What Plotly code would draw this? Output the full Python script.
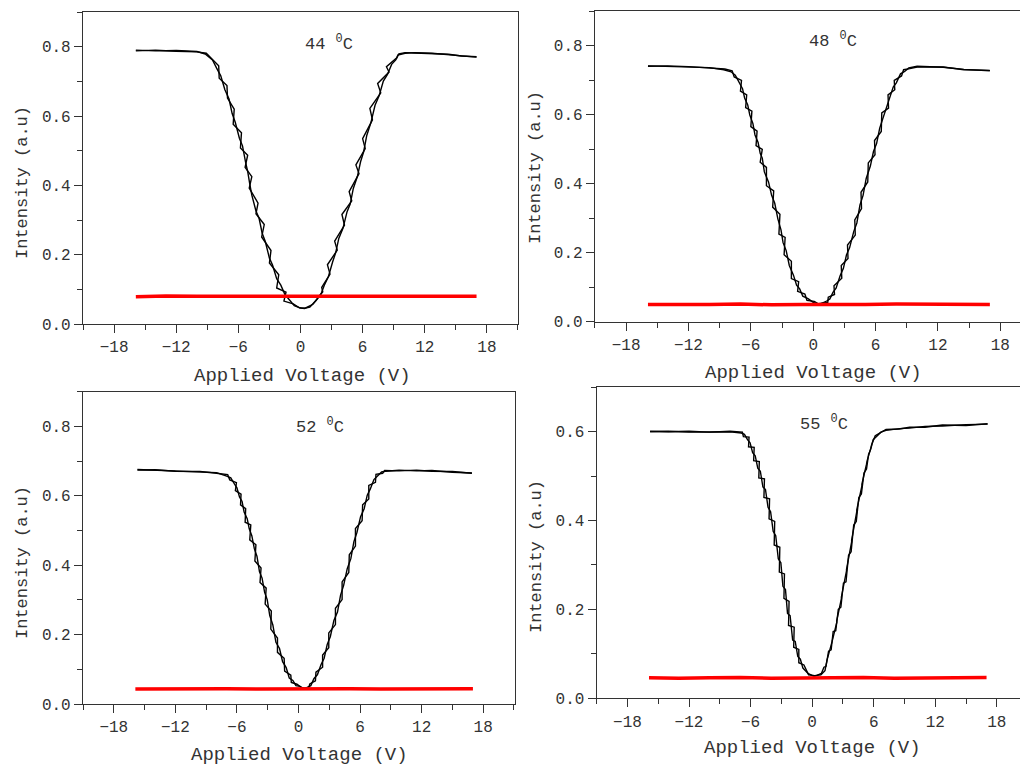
import plotly.graph_objects as go

# ---- data (two voltage sweeps per temperature) ----
V44 = [-15.9, -14, -12, -10, -9.2, -8.5, -8.1, -7.7, -7.3, -6.9, -6.6, -6.3, -5.9, -5.6, -5.3, -5.1,
       -4.9, -4.7, -4.3, -4.0, -3.7, -3.4, -3.0, -2.7, -2.3, -1.9, -1.5, -1.1, -0.6, 0, 0.4, 0.8,
       1.2, 1.6, 2.0, 2.3, 2.7, 3.1, 3.4, 3.7, 4.1, 4.5, 4.8, 5.1, 5.5, 5.8, 6.1, 6.4, 6.8, 7.2,
       7.6, 8.0, 8.4, 8.8, 9.2, 9.5, 10.1, 11, 12.7, 14.3, 15.5, 17.0]
I44_a = [0.790, 0.788, 0.789, 0.786, 0.779, 0.762, 0.738, 0.716, 0.676, 0.649, 0.607, 0.582, 0.536,
         0.514, 0.466, 0.440, 0.404, 0.372, 0.326, 0.305, 0.262, 0.238, 0.190, 0.170, 0.131, 0.112,
         0.085, 0.072, 0.053, 0.046, 0.045, 0.051, 0.057, 0.072, 0.088, 0.112, 0.137, 0.179, 0.206,
         0.247, 0.276, 0.324, 0.346, 0.391, 0.426, 0.468, 0.497, 0.544, 0.581, 0.631, 0.659, 0.701,
         0.720, 0.749, 0.762, 0.779, 0.783, 0.782, 0.780, 0.778, 0.773, 0.771]
V44_b = [-15.9, -14, -12, -10, -9.1, -8.6, -7.9, -7.85, -7.1, -7.05, -6.4, -6.5, -5.7, -5.8, -5.1, -5.35,
         -4.7, -4.95, -4.1, -4.3, -3.5, -3.75, -2.85, -3.0, -2.1, -2.3, -1.4, -1.6, -0.7, -0.1, 0.5, 0.9,
         1.3, 1.5, 2.15, 2.05, 2.85, 2.6, 3.55, 3.3, 4.25, 4.0, 4.95, 4.7, 5.65, 5.35, 6.25, 6.0, 6.95,
         6.7, 7.75, 7.45, 8.55, 8.3, 9.3, 9.4, 10.1, 11, 12.7, 14.3, 15.5, 17.0]
I44_b = [0.788, 0.790, 0.787, 0.785, 0.781, 0.766, 0.745, 0.709, 0.688, 0.652, 0.620, 0.576, 0.552,
         0.508, 0.487, 0.452, 0.425, 0.392, 0.349, 0.318, 0.287, 0.251, 0.212, 0.176, 0.142, 0.104,
         0.092, 0.066, 0.058, 0.047, 0.046, 0.049, 0.060, 0.068, 0.093, 0.106, 0.144, 0.171, 0.213,
         0.239, 0.285, 0.316, 0.355, 0.382, 0.434, 0.459, 0.506, 0.535, 0.589, 0.622, 0.667, 0.694,
         0.727, 0.742, 0.768, 0.776, 0.781, 0.783, 0.781, 0.777, 0.774, 0.770]

V48 = [-15.9, -14, -12, -10, -8.6, -7.9, -7.5, -7.1, -6.8, -6.6, -6.3, -6.1, -5.8, -5.6, -5.3, -5.1,
       -4.9, -4.7, -4.3, -4.0, -3.7, -3.4, -3.1, -2.9, -2.6, -2.3, -1.9, -1.6, -1.3, -1.0, -0.5, 0,
       0.6, 1.3, 1.6, 1.9, 2.2, 2.6, 2.9, 3.2, 3.5, 3.9, 4.2, 4.5, 4.8, 5.1, 5.5, 5.8, 6.1, 6.4,
       6.8, 7.1, 7.4, 7.7, 8.0, 8.4, 8.8, 9.2, 10.0, 12.5, 14.5, 17.0]
I48_a = [0.741, 0.740, 0.738, 0.736, 0.730, 0.724, 0.714, 0.693, 0.675, 0.648, 0.628, 0.599, 0.574,
         0.541, 0.519, 0.488, 0.474, 0.434, 0.405, 0.366, 0.343, 0.298, 0.266, 0.229, 0.206, 0.163,
         0.135, 0.106, 0.095, 0.074, 0.067, 0.056, 0.050, 0.060, 0.066, 0.085, 0.097, 0.134, 0.154,
         0.193, 0.214, 0.261, 0.286, 0.338, 0.366, 0.415, 0.451, 0.493, 0.516, 0.561, 0.596, 0.627,
         0.648, 0.680, 0.692, 0.718, 0.725, 0.735, 0.740, 0.737, 0.731, 0.727]
V48_b = [-15.9, -14, -12, -10, -8.5, -7.8, -7.6, -6.9, -7.0, -6.4, -6.5, -5.9, -6.0, -5.4, -5.5, -4.9,
         -5.1, -4.5, -4.5, -3.8, -3.9, -3.2, -3.3, -2.7, -2.8, -2.1, -2.1, -1.4, -1.5, -0.8, -0.6, 0.1,
         0.5, 1.4, 1.45, 2.05, 2.0, 2.75, 2.7, 3.35, 3.3, 4.05, 4.0, 4.65, 4.6, 5.25, 5.3, 5.95, 5.9,
         6.55, 6.6, 7.25, 7.2, 7.85, 7.8, 8.5, 8.7, 9.3, 10.0, 12.5, 14.5, 17.0]
I48_b = [0.740, 0.741, 0.739, 0.735, 0.732, 0.727, 0.709, 0.699, 0.668, 0.657, 0.620, 0.610, 0.565,
         0.552, 0.510, 0.499, 0.462, 0.447, 0.394, 0.379, 0.332, 0.311, 0.254, 0.244, 0.194, 0.175,
         0.125, 0.116, 0.088, 0.080, 0.062, 0.059, 0.052, 0.056, 0.071, 0.079, 0.104, 0.126, 0.163,
         0.183, 0.222, 0.251, 0.295, 0.328, 0.375, 0.405, 0.460, 0.484, 0.525, 0.551, 0.605, 0.619,
         0.657, 0.672, 0.699, 0.712, 0.730, 0.733, 0.738, 0.738, 0.730, 0.728]

V52 = [-15.7, -14, -12, -9.6, -8, -7.0, -6.6, -6.2, -6.0, -5.75, -5.5, -5.3, -5.0, -4.8, -4.55, -4.3,
       -4.05, -3.8, -3.55, -3.3, -3.05, -2.8, -2.5, -2.2, -1.85, -1.55, -1.2, -0.9, -0.55, -0.25,
       0.15, 0.55, 0.9, 1.2, 1.5, 1.85, 2.2, 2.5, 2.8, 3.1, 3.45, 3.8, 4.1, 4.4, 4.75, 5.1, 5.4,
       5.7, 6.05, 6.4, 6.7, 7.0, 7.35, 7.7, 8.1, 8.5, 9.8, 11.5, 13.0, 15.0, 16.9]
I52_a = [0.676, 0.674, 0.672, 0.671, 0.667, 0.657, 0.652, 0.632, 0.623, 0.597, 0.584, 0.553, 0.534,
         0.505, 0.485, 0.447, 0.426, 0.381, 0.363, 0.322, 0.301, 0.255, 0.228, 0.178, 0.160, 0.122,
         0.105, 0.075, 0.068, 0.053, 0.051, 0.044, 0.049, 0.053, 0.073, 0.085, 0.114, 0.132, 0.172,
         0.194, 0.241, 0.265, 0.314, 0.342, 0.390, 0.419, 0.468, 0.495, 0.540, 0.563, 0.602, 0.620,
         0.647, 0.656, 0.669, 0.671, 0.674, 0.672, 0.673, 0.668, 0.666]
V52_b = [-15.7, -14, -12, -9.6, -8, -6.9, -6.7, -6.05, -6.15, -5.6, -5.65, -5.15, -5.2, -4.65, -4.75,
         -4.15, -4.25, -3.65, -3.75, -3.15, -3.25, -2.65, -2.7, -2.05, -2.05, -1.4, -1.35, -0.75, -0.7,
         -0.15, 0.25, 0.6, 1.0, 1.1, 1.65, 1.7, 2.35, 2.35, 2.95, 2.95, 3.6, 3.6, 4.25, 4.25, 4.9,
         4.95, 5.55, 5.55, 6.2, 6.25, 6.85, 6.85, 7.5, 7.55, 8.2, 8.4, 9.8, 11.5, 13.0, 15.0, 16.9]
I52_b = [0.674, 0.675, 0.671, 0.670, 0.665, 0.661, 0.646, 0.638, 0.615, 0.605, 0.574, 0.563, 0.524,
         0.516, 0.473, 0.459, 0.412, 0.392, 0.350, 0.334, 0.288, 0.268, 0.216, 0.190, 0.149, 0.132,
         0.095, 0.083, 0.062, 0.057, 0.048, 0.046, 0.047, 0.058, 0.067, 0.092, 0.106, 0.141, 0.162,
         0.205, 0.229, 0.276, 0.301, 0.352, 0.379, 0.430, 0.455, 0.506, 0.528, 0.574, 0.591, 0.630,
         0.639, 0.662, 0.665, 0.673, 0.672, 0.674, 0.671, 0.670, 0.665]

V55 = [-15.8, -14, -12, -10, -8, -6.9, -6.6, -6.3, -6.05, -5.8, -5.55, -5.3, -5.05, -4.8, -4.55, -4.3,
       -4.05, -3.8, -3.55, -3.3, -3.05, -2.85, -2.6, -2.4, -2.15, -1.9, -1.65, -1.4, -1.15, -0.9,
       -0.4, 0.2, 0.9, 1.15, 1.35, 1.6, 1.85, 2.05, 2.3, 2.55, 2.8, 3.05, 3.3, 3.55, 3.8, 4.05,
       4.3, 4.55, 4.8, 5.05, 5.3, 5.5, 5.7, 5.95, 6.2, 6.7, 7.2, 8.5, 9.5, 11, 12.7, 15, 17.1]
I55_a = [0.600, 0.601, 0.599, 0.600, 0.600, 0.597, 0.594, 0.582, 0.575, 0.553, 0.546, 0.518, 0.511,
         0.476, 0.470, 0.430, 0.420, 0.376, 0.366, 0.314, 0.305, 0.252, 0.245, 0.191, 0.186, 0.131,
         0.128, 0.094, 0.088, 0.068, 0.056, 0.049, 0.056, 0.070, 0.072, 0.106, 0.109, 0.150, 0.152,
         0.200, 0.205, 0.259, 0.262, 0.322, 0.330, 0.390, 0.398, 0.452, 0.460, 0.507, 0.516, 0.549,
         0.560, 0.582, 0.587, 0.599, 0.603, 0.607, 0.608, 0.612, 0.613, 0.616, 0.617]
V55_b = [-15.8, -14, -12, -10, -8, -6.8, -6.7, -6.15, -6.2, -5.65, -5.7, -5.15, -5.2, -4.65, -4.7,
         -4.15, -4.2, -3.65, -3.7, -3.15, -3.2, -2.7, -2.75, -2.25, -2.3, -1.75, -1.8, -1.3, -1.3,
         -0.8, -0.35, 0.25, 0.85, 1.25, 1.45, 1.5, 1.95, 1.95, 2.4, 2.4, 2.85, 2.85, 3.35, 3.35,
         3.85, 3.85, 4.35, 4.35, 4.85, 4.85, 5.3, 5.35, 5.75, 5.8, 6.15, 6.6, 7.2, 8.5, 9.5, 11,
         12.7, 15, 17.1]
I55_b = [0.601, 0.600, 0.601, 0.599, 0.601, 0.599, 0.589, 0.588, 0.566, 0.565, 0.535, 0.533, 0.496,
         0.494, 0.452, 0.449, 0.404, 0.398, 0.345, 0.340, 0.284, 0.280, 0.225, 0.218, 0.164, 0.160,
         0.115, 0.110, 0.080, 0.075, 0.053, 0.051, 0.053, 0.062, 0.086, 0.090, 0.124, 0.128, 0.171,
         0.175, 0.224, 0.228, 0.287, 0.290, 0.352, 0.356, 0.420, 0.424, 0.478, 0.482, 0.527, 0.534,
         0.566, 0.571, 0.591, 0.597, 0.605, 0.606, 0.610, 0.610, 0.615, 0.614, 0.618]

# red reference (no field) traces
V_red = [-15.9, -13, -10, -7, -4, -1, 2, 5, 8, 11, 14, 17.0]
R44 = [0.079, 0.081, 0.080, 0.080, 0.081, 0.079, 0.080, 0.081, 0.080, 0.079, 0.081, 0.080]
R48 = [0.050, 0.049, 0.050, 0.051, 0.049, 0.050, 0.049, 0.050, 0.051, 0.050, 0.049, 0.050]
R52 = [0.043, 0.044, 0.043, 0.044, 0.043, 0.044, 0.043, 0.044, 0.043, 0.044, 0.043, 0.044]
R55 = [0.046, 0.045, 0.046, 0.047, 0.045, 0.046, 0.046, 0.047, 0.045, 0.046, 0.046, 0.047]

temps = ["44", "48", "52", "55"]
label_pos = [(2.8, 0.81), (1.9, 0.815), (2.1, 0.80), (1.2, 0.62)]

FONT = "Liberation Mono, Courier New, monospace"
INK = "#333333"
W, H = 1020, 766

panels = [
    # (sweep a, sweep b, red, xdomain, ydomain, xrange, yrange, right frame)
    ((V44, I44_a), (V44_b, I44_b), R44, [0.0814, 0.5078], [0.577, 0.9843], [-21, 21], [0, 0.9], True),
    ((V48, I48_a), (V48_b, I48_b), R48, [0.5833, 1.0], [0.580, 0.9856], [-21, 19.9], [0, 0.9], False),
    ((V52, I52_a), (V52_b, I52_b), R52, [0.0814, 0.5049], [0.0809, 0.4886], [-21, 21.1], [0, 0.9], True),
    ((V55, I55_a), (V55_b, I55_b), R55, [0.585, 1.0], [0.0884, 0.4944], [-21, 20.26], [0, 0.7], False),
]
# axis title centres in pixels: x title, y title
xtitle_px = [(302, 376), (813, 373), (299, 755), (812, 748)]
ytitle_px = [(22, 183), (535, 168), (22, 563), (536, 557)]

fig = go.Figure()
layout = {}
annotations = []

for i, (sa, sb, red, xd, yd, xr, yr, right) in enumerate(panels):
    n = "" if i == 0 else str(i + 1)
    xa, ya = "x" + n, "y" + n
    for vs, ys in (sa, sb):
        fig.add_trace(go.Scatter(x=vs, y=ys, mode="lines", xaxis=xa, yaxis=ya,
                                 line=dict(color="black", width=1.4), showlegend=False))
    fig.add_trace(go.Scatter(x=V_red, y=red, mode="lines", xaxis=xa, yaxis=ya,
                             line=dict(color="#ff0000", width=3.5), showlegend=False))

    layout["xaxis" + n] = dict(
        domain=xd, range=xr, anchor=ya, tickmode="linear", tick0=0, dtick=6,
        showgrid=False, zeroline=False, showline=True, linecolor=INK, linewidth=1.2,
        mirror=True, ticks="outside", ticklen=8, tickcolor=INK, automargin=False,
        minor=dict(ticks="outside", dtick=3, tick0=0, ticklen=5, tickcolor=INK, showgrid=False),
        tickfont=dict(family=FONT, size=16, color=INK),
    )
    layout["yaxis" + n] = dict(
        domain=yd, range=yr, anchor=xa, tickmode="linear", tick0=0, dtick=0.2, tickformat=".1f",
        showgrid=False, zeroline=False, showline=True, linecolor=INK, linewidth=1.2,
        mirror=right, ticks="outside", ticklen=8, tickcolor=INK, automargin=False,
        minor=dict(ticks="outside", dtick=0.1, tick0=0, ticklen=5, tickcolor=INK, showgrid=False),
        tickfont=dict(family=FONT, size=16, color=INK),
    )
    lx, ly = label_pos[i]
    annotations.append(dict(x=lx, y=ly, xref=xa, yref=ya, showarrow=False,
                            text=temps[i] + " <sup>0</sup>C",
                            font=dict(family=FONT, size=17, color=INK)))
    tx, ty = xtitle_px[i]
    annotations.append(dict(x=tx / W, y=1 - ty / H, xref="paper", yref="paper", showarrow=False,
                            text="Applied Voltage (V)", xanchor="center", yanchor="middle",
                            font=dict(family=FONT, size=19, color=INK)))
    tx, ty = ytitle_px[i]
    annotations.append(dict(x=tx / W, y=1 - ty / H, xref="paper", yref="paper", showarrow=False,
                            text="Intensity (a.u)", textangle=-90, xanchor="center", yanchor="middle",
                            font=dict(family=FONT, size=17, color=INK)))

fig.update_layout(
    **layout,
    annotations=annotations,
    width=W, height=H,
    margin=dict(l=0, r=0, t=0, b=0),
    paper_bgcolor="white", plot_bgcolor="white",
    showlegend=False,
)

# drop the browser's default 8px body margin so the figure fills the window
fig.write_html("out.html", config={"displayModeBar": False},
               post_script="document.body.style.margin='0';")
